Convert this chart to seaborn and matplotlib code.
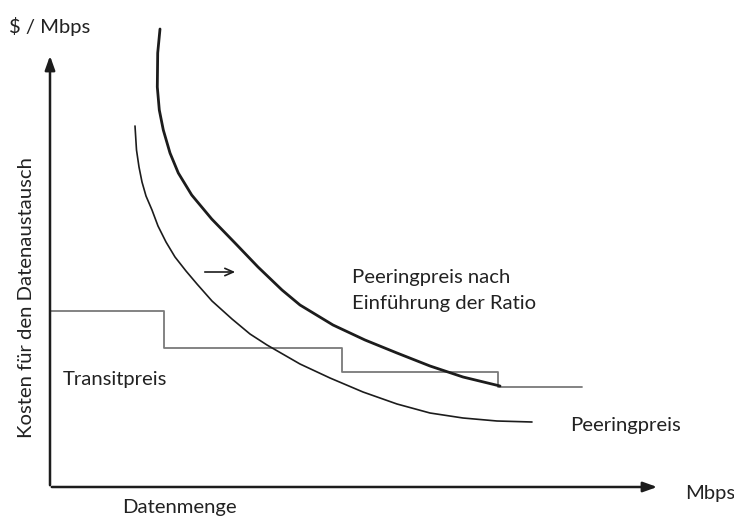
import matplotlib
matplotlib.use("Agg")
import matplotlib.pyplot as plt
import seaborn as sns

# Data (in the diagram's own pixel-like units; y grows downward)
outer_x = [160, 157.7, 157.3, 159.3, 163.3, 170, 178.3, 191.7, 211.7, 235, 258, 282,
           300, 333, 365, 397, 430, 463, 500]
outer_y = [29, 53, 87, 110, 130, 153, 173, 195, 219, 243, 267, 290,
           305, 325, 340, 353, 366, 377, 386]

inner_x = [135, 136.5, 139, 142, 146, 152, 158, 166, 175, 186, 197, 212, 232, 250,
           267, 300, 330, 363, 397, 430, 463, 497, 532]
inner_y = [126, 150, 167, 182, 196, 210, 226, 242, 257, 271, 284, 301, 319, 334,
           345, 364, 378, 392, 404, 413, 418, 421, 422]

transit_x = [50, 164, 342, 498, 582]
transit_y = [311, 348, 372, 387, 387]

sns.set_theme(style="white")
plt.rcParams['font.family'] = ['Lato', 'DejaVu Sans']

fig = plt.figure(figsize=(7.34, 5.17), dpi=100)
ax = fig.add_axes([0, 0, 1, 1])
ax.set_xlim(0, 734)
ax.set_ylim(517, 0)
ax.axis("off")

ink = "#1c1c1c"

sns.lineplot(x=transit_x, y=transit_y, ax=ax, color="#7a7a7a", lw=1.3,
             drawstyle="steps-post", estimator=None, sort=False)
sns.lineplot(x=inner_x, y=inner_y, ax=ax, color=ink, lw=1.2,
             estimator=None, sort=False, solid_joinstyle="round")
sns.lineplot(x=outer_x, y=outer_y, ax=ax, color=ink, lw=2.0,
             estimator=None, sort=False, solid_joinstyle="round")

# axes arrows
arrow_kw = dict(arrowstyle="-|>,head_length=0.7,head_width=0.25", color=ink, lw=1.8)
ax.annotate("", xy=(50, 53), xytext=(50, 488), arrowprops=arrow_kw)
ax.annotate("", xy=(660, 487), xytext=(49, 487), arrowprops=arrow_kw)

# small shift arrow
ax.annotate("", xy=(238, 272), xytext=(202, 272),
            arrowprops=dict(arrowstyle="->,head_length=0.5,head_width=0.22", color=ink, lw=1.2))

tc = "#222222"
fs = 14.6
ax.text(9, 27, "$ / Mbps", fontsize=fs, color=tc, va="center", ha="left")
ax.text(27, 298, "Kosten für den Datenaustausch", fontsize=fs, color=tc,
        rotation=90, va="center", ha="center")
ax.text(63, 379, "Transitpreis", fontsize=fs, color=tc, va="center", ha="left")
ax.text(179, 508, "Datenmenge", fontsize=fs, color=tc, va="center", ha="center")
ax.text(685, 493, "Mbps", fontsize=fs, color=tc, va="center", ha="left")
ax.text(570, 425, "Peeringpreis", fontsize=fs, color=tc, va="center", ha="left")
ax.text(352, 277, "Peeringpreis nach", fontsize=fs, color=tc, va="center", ha="left")
ax.text(352, 304, "Einführung der Ratio", fontsize=fs, color=tc, va="center", ha="left")

fig.savefig("out.png", dpi=100, facecolor="white")
